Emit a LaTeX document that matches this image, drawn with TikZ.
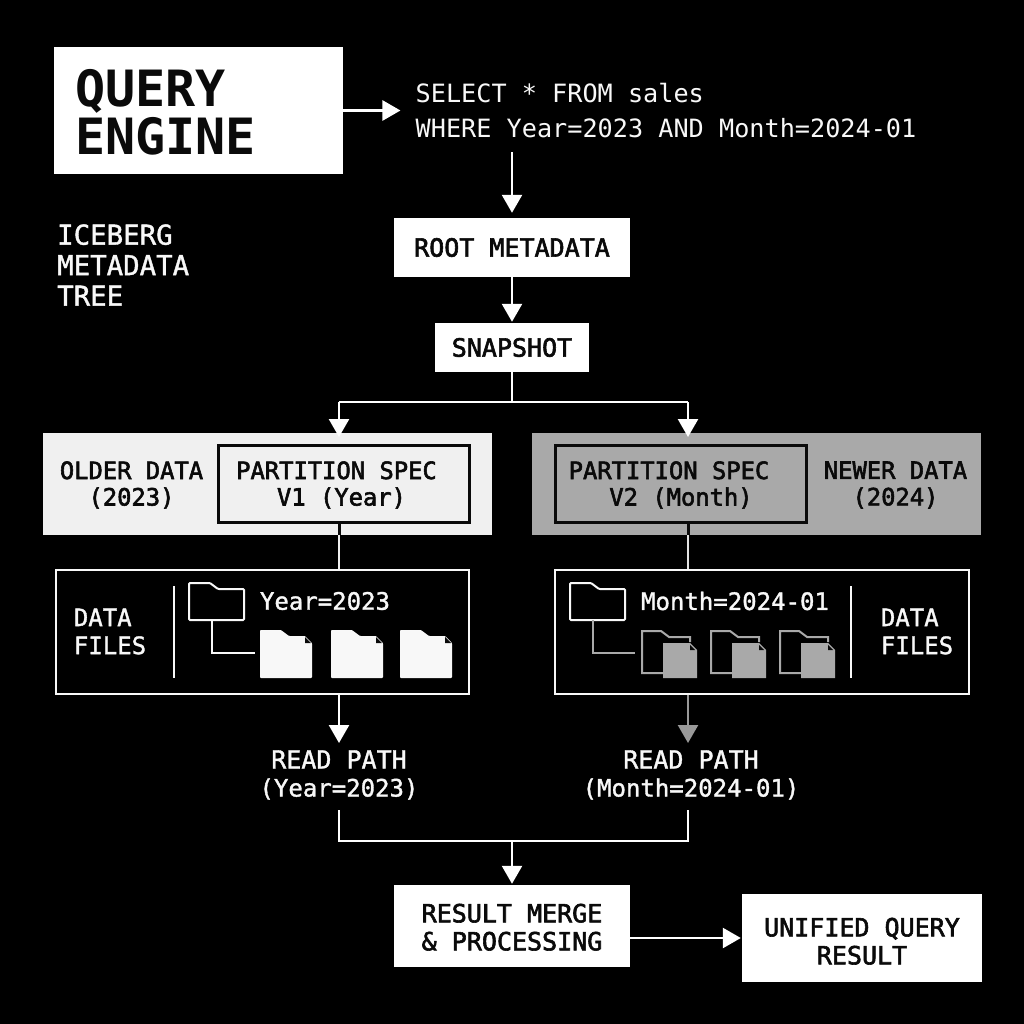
\documentclass[tikz,border=0pt]{standalone}
\usepackage{fontspec}
\setmainfont{DejaVu Sans Mono}
\newfontfamily\medf{DejaVu Sans Mono}[FakeBold=2.4]
\newfontfamily\semif{DejaVu Sans Mono}[FakeBold=1.4]
\usetikzlibrary{arrows.meta}
\definecolor{paper}{HTML}{F8F8F8}
\definecolor{lightband}{HTML}{F0F0F0}
\definecolor{midband}{HTML}{A9A9A9}
\definecolor{ink}{HTML}{0A0A0A}
\definecolor{fade}{HTML}{999999}
\newcommand{\fs}[2]{\fontsize{#1}{#2}\selectfont}
\tikzset{
  x=1pt,y=-1pt,
  wbox/.style={fill=white,text=ink,inner sep=0pt,align=center,font=\medf\fs{25}{28}},
  band/.style={inner sep=0pt},
  spec/.style={draw=ink,line width=3pt,inner sep=0pt},
  frame/.style={draw=paper,line width=2pt,inner sep=0pt},
  wlbl/.style={inner sep=0pt,align=center,text=paper,font=\semif\fs{24}{28}},
  blbl/.style={inner sep=0pt,align=center,text=ink,font=\medf\fs{23.8}{26.5}},
  conn/.style={draw=white,line width=2.5pt},
  arr/.style={conn,-{Triangle[width=20pt,length=18pt]}},
  rule/.style={draw=paper,line width=2pt},
}
\newcommand{\docshape}[1]{% file at left x = #1, solid
  \fill[paper,rounded corners=0.8pt] (#1,630) -- (#1+21,630) -- (#1+29,636) -- (#1+45,636) -- (#1+52,643) -- (#1+52,678) -- (#1,678) -- cycle;
  \fill[ink] (#1+45,637) -- (#1+45,643) -- (#1+51,643) -- cycle;
}
\newcommand{\foldergray}[1]{% folder at left x = #1 with a gray file in front
  \draw[midband,line width=2pt] (#1+21,673) -- (#1,673) -- (#1,631) -- (#1+19,631) -- (#1+27,637) -- (#1+48,637) -- (#1+48,642);
  \fill[midband] (#1+21,643) -- (#1+48,643) -- (#1+55,650) -- (#1+55,678) -- (#1+21,678) -- cycle;
  \fill[ink] (#1+48,645) -- (#1+48,650) -- (#1+53,650) -- cycle;
}
\newcommand{\folderline}[1]{% big folder outline at left x = #1
  \draw[paper,line width=2pt,rounded corners=1pt] (#1,583) -- (#1+21,583) -- (#1+29,589) -- (#1+55,589) -- (#1+55,620) -- (#1,620) -- cycle;
}
\begin{document}
\begin{tikzpicture}
\useasboundingbox (0,0) rectangle (1024,1024);
\fill[black] (0,0) rectangle (1024,1024);

% top row
\node[fill=white,inner sep=0pt,minimum width=289pt,minimum height=127pt] (qe) at (198.5,110.5) {};
\node[inner sep=0pt,anchor=west,text=ink,align=left,font=\fs{50}{48}\bfseries] (qet) at (75,112) {QUERY\\ENGINE};
\node[inner sep=0pt,minimum width=500pt,minimum height=83pt,text=paper,align=left,font=\fs{25.2}{35}] (sql) at (666,110.5) {SELECT * FROM sales\\WHERE Year=2023 AND Month=2024-01};
\node[inner sep=0pt,anchor=west,text=paper,align=left,font=\semif\fs{27.4}{30.5}] (tree) at (57,265) {ICEBERG\\METADATA\\TREE};

% spine
\node[wbox,minimum width=236pt,minimum height=59pt] (root) at (512,247.5) {ROOT METADATA};
\node[wbox,minimum width=154pt,minimum height=49pt] (snap) at (512,347.5) {SNAPSHOT};
\coordinate (split) at (512,402);
\coordinate (splitL) at (339,402);
\coordinate (splitR) at (688,402);

% bands
\node[band,fill=lightband,minimum width=449pt,minimum height=102pt] (bandL) at (267.5,484) {};
\node[band,fill=midband,minimum width=449pt,minimum height=102pt] (bandR) at (756.5,484) {};
\node[spec,minimum width=251pt,minimum height=77pt] (specL) at (343.5,483.5) {};
\node[spec,minimum width=251pt,minimum height=77pt] (specR) at (680.5,483.5) {};
\node[blbl] (specLt) at (340,485) {PARTITION SPEC\hspace*{7pt}\\\hspace*{3pt}V1 (Year)};
\node[blbl] (specRt) at (675,485) {PARTITION SPEC\hspace*{12pt}\\\hspace*{12pt}V2 (Month)};
\node[blbl] (oldt) at (131.5,485) {OLDER DATA\\(2023)};
\node[blbl] (newt) at (895.5,485) {NEWER DATA\\(2024)};
\coordinate (tipL) at (339,437);
\coordinate (tipR) at (688,437);

% file frames
\node[frame,minimum width=413pt,minimum height=124pt] (filesL) at (262,631.5) {};
\node[frame,minimum width=414pt,minimum height=124pt] (filesR) at (761.5,631.5) {};
\node[wlbl,align=left] (dfL) at (110,631.5) {DATA\\FILES};
\node[wlbl,align=left] (dfR) at (917,631.5) {DATA\\FILES};
\node[wlbl] (yr) at (325,601) {Year=2023};
\node[wlbl] (mo) at (735,601) {Month=2024-01};
\coordinate (divLa) at (174,586); \coordinate (divLb) at (174,678);
\coordinate (divRa) at (851,586); \coordinate (divRb) at (851,678);
\draw[rule] (divLa) -- (divLb);
\draw[rule] (divRa) -- (divRb);

\folderline{189}
\folderline{570}
\draw[paper,line width=2pt] (212,620) -- (212,653) -- (255,653);
\draw[midband,line width=2pt] (593,620) -- (593,653) -- (635,653);
\docshape{260}
\docshape{331}
\docshape{400}
\foldergray{642}
\foldergray{711}
\foldergray{780}

% read paths
\node[wlbl] (rpL) at (339,775) {{\fs{25}{28}READ PATH}\\(Year=2023)};
\node[wlbl] (rpR) at (691,775) {{\fs{25}{28}READ PATH}\\(Month=2024-01)};
\coordinate (tipA) at (339,743);
\coordinate (tipB) at (688,743);
\coordinate (mergeL) at (339,810);
\coordinate (mergeR) at (688,810);
\coordinate (mergeM) at (512,841);

% result
\node[wbox,minimum width=236pt,minimum height=82pt] (merge) at (512,926) {\rule{0pt}{21pt}RESULT MERGE\\\& PROCESSING};
\node[wbox,minimum width=240pt,minimum height=88pt] (unified) at (862,938) {\rule{0pt}{25pt}UNIFIED QUERY\\RESULT};

% connectors
\draw[arr,shorten >=15pt] (qe.east) -- (sql.west);
\draw[arr,shorten >=5pt] (sql.south -| root.north) -- (root.north);
\draw[arr,shorten >=1pt] (root.south) -- (snap.north);
\draw[conn] (snap.south) -- (split);
\draw[conn] (splitL) -- (splitR);
\draw[arr] (splitL) -- (tipL);
\draw[arr] (splitR) -- (tipR);
\draw[ink,line width=3pt] (specL.south -| splitL) -- (bandL.south -| splitL);
\draw[ink,line width=3pt] (specR.south -| splitR) -- (bandR.south -| splitR);
\draw[draw=lightband,line width=2.5pt] (bandL.south -| splitL) -- (filesL.north -| splitL);
\draw[draw=lightband!80!midband,line width=2.5pt] (bandR.south -| splitR) -- (filesR.north -| splitR);
\draw[arr] (filesL.south -| splitL) -- (tipA);
\draw[conn,draw=fade,-{Triangle[width=20pt,length=18pt]}] (filesR.south -| splitR) -- (tipB);
\draw[conn] (mergeL) -- (mergeL |- mergeM) -- (mergeR |- mergeM) -- (mergeR);
\draw[arr,shorten >=1pt] (mergeM) -- (merge.north);
\draw[arr,shorten >=1pt] (merge.east |- 0,938) -- (unified.west);
\end{tikzpicture}
\end{document}
